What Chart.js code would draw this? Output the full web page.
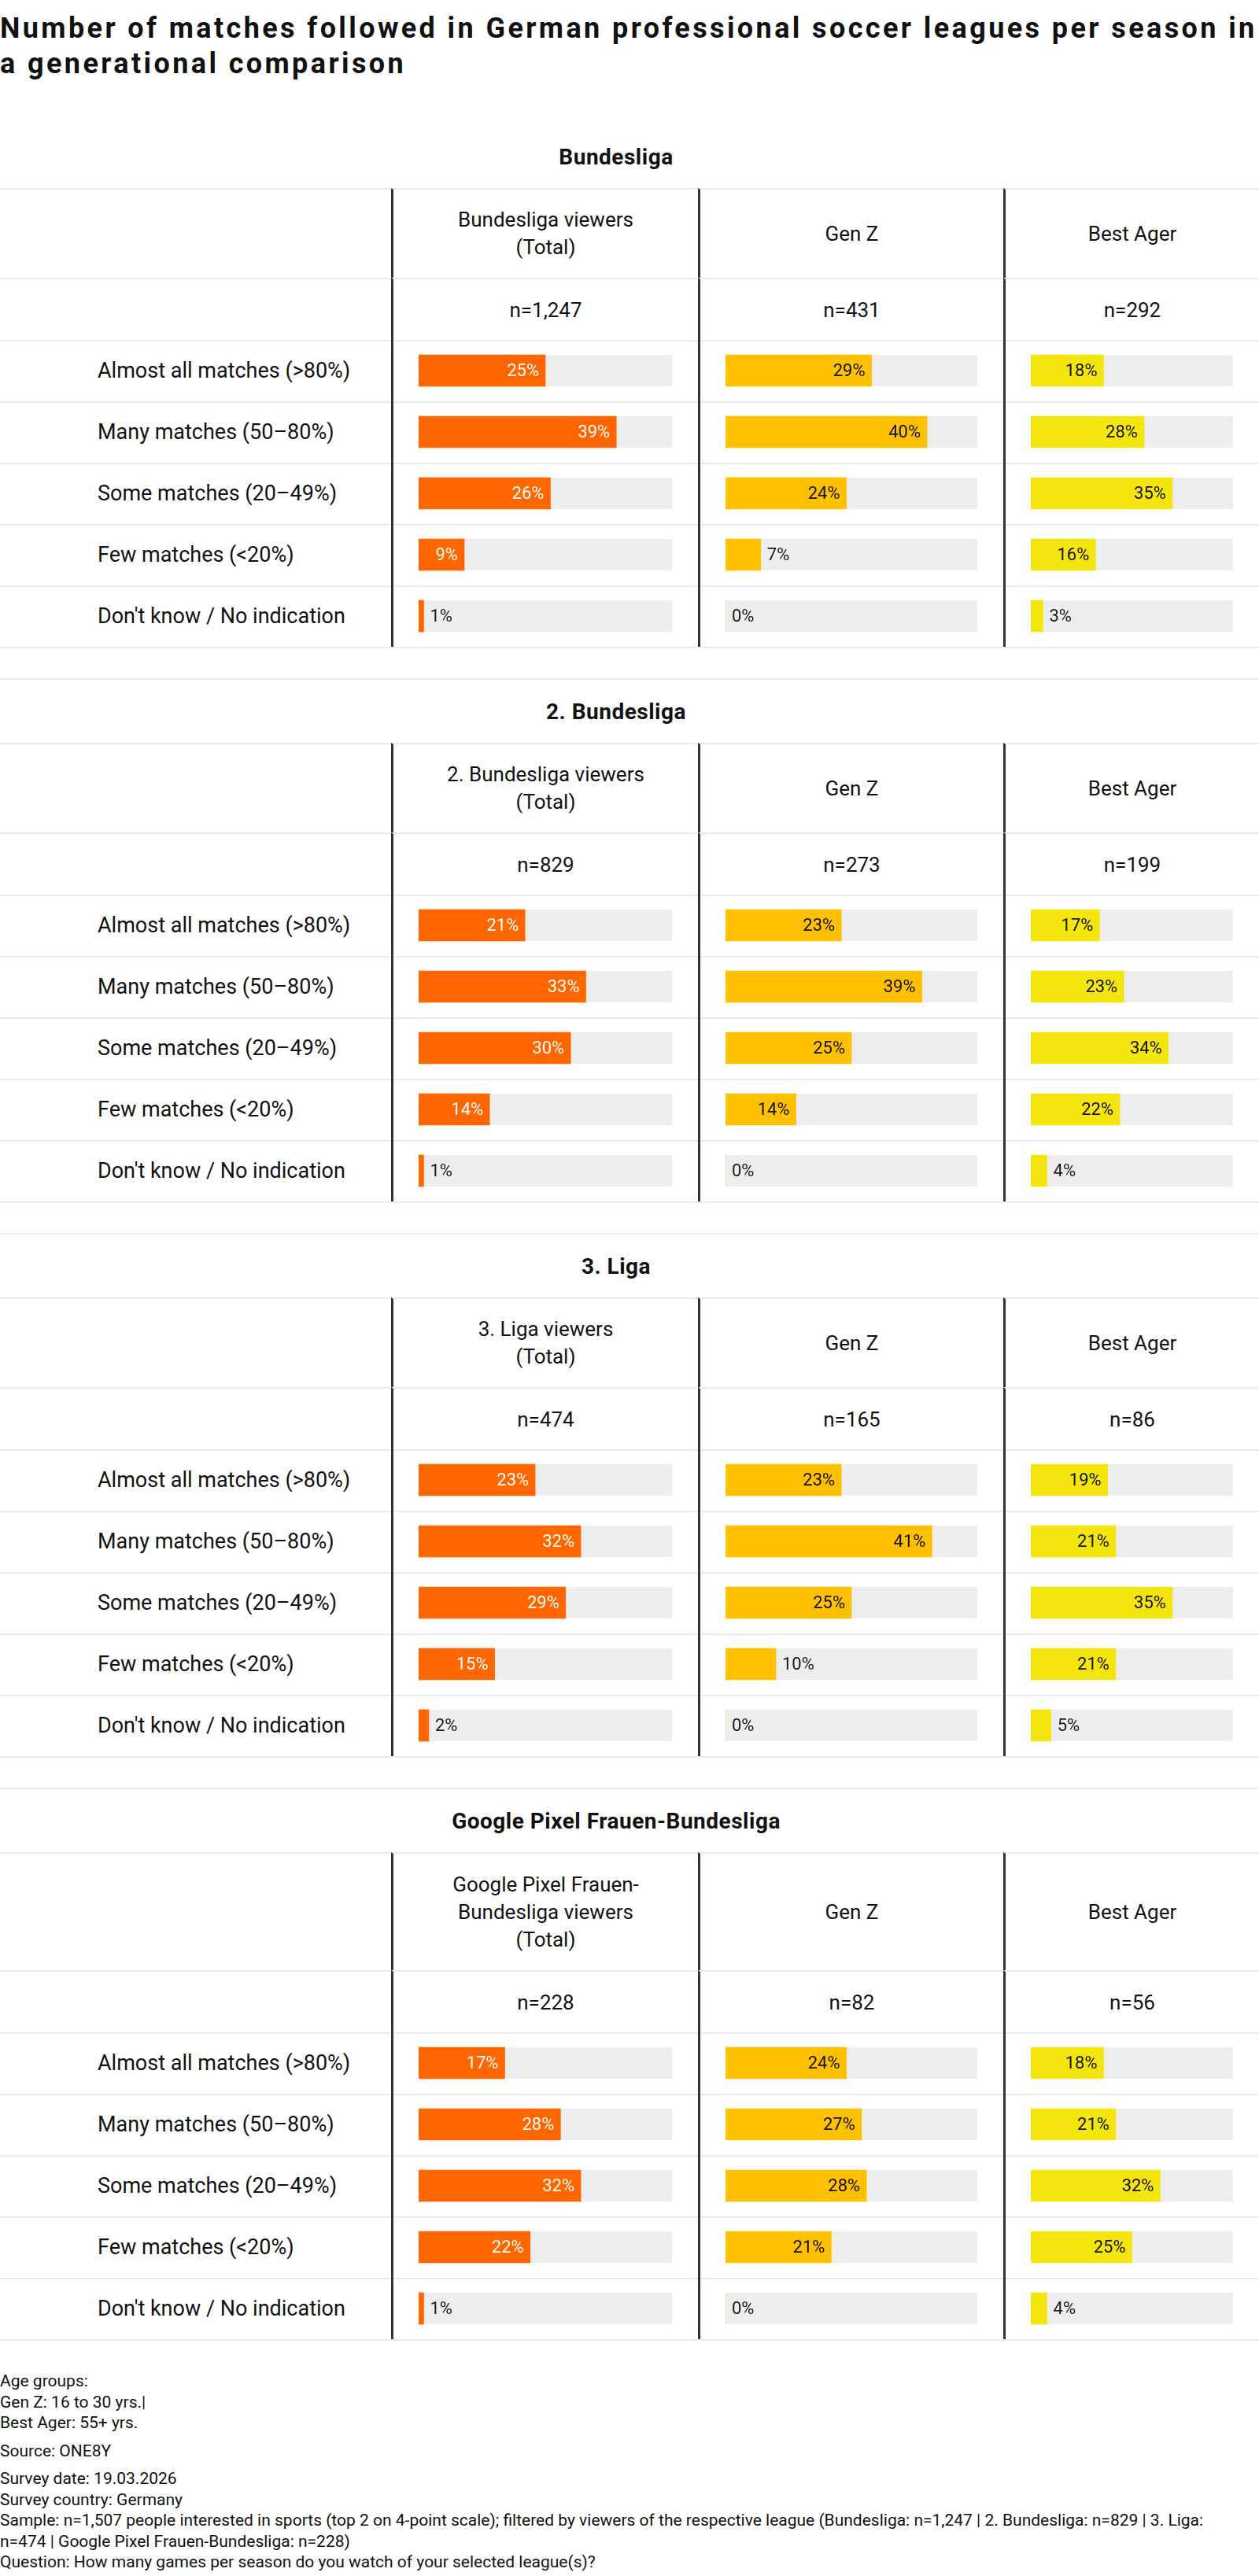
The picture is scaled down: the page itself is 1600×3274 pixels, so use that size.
<!DOCTYPE html>
<html lang="en">
<head>
<meta charset="utf-8">
<title>Number of matches followed in German professional soccer leagues per season</title>
<script src="https://cdn.jsdelivr.net/npm/chart.js@4.4.1/dist/chart.umd.min.js"></script>
<style>
  body { margin: 0; width: 1600px; background: #fff; color: #111; font-family: Roboto, "Noto Sans", sans-serif; }
  h1 { margin: 0; padding-top: 14px; height: 143px; font-size: 36px; line-height: 45px; font-weight: 700; letter-spacing: 3.4px; white-space: nowrap; }
  .section + .section { border-top: 2px solid #ebebeb; margin-top: 38px; }
  .section.first { padding-top: 2px; }
  .heading { height: 80px; display: flex; align-items: center; justify-content: center; padding-right: 34px; font-size: 28px; font-weight: 700; letter-spacing: 0.5px; }
  .grid { display: grid; grid-template-columns: 497px 390px 388px 325px; border-bottom: 2px solid #ebebeb; }
  .grid > div { box-sizing: border-box; }
  .hdr, .nrow { border-top: 2px solid #ebebeb; display: flex; align-items: center; justify-content: center; text-align: center; font-size: 26px; }
  .hdr { height: 114px; line-height: 35px; }
  .nrow { height: 79px; }
  .col { border-left: 3px solid #333; }
  .bars { height: 390px; background: repeating-linear-gradient(to bottom, #ebebeb 0, #ebebeb 2px, #fff 2px, #fff 78px); }
  .chart-cell { padding: 0 33px 0 32px; }
  .chart-box { position: relative; height: 390px; }
  .labels div { height: 78px; display: flex; align-items: center; padding-left: 124px; font-size: 27px; }
  #notes { margin-top: 38px; width: 1565px; font-size: 21px; line-height: 26.5px; }
  #notes p { margin: 0 0 9px; }
</style>
</head>
<body>
<h1 id="title"></h1>
<div id="sections"></div>
<div id="notes"></div>

<script>
const titleLines = ['Number of matches followed in German professional soccer leagues per season in', 'a generational comparison'];

const categories = ['Almost all matches (>80%)', 'Many matches (50–80%)', 'Some matches (20–49%)', 'Few matches (<20%)', "Don't know / No indication"];
const leagues = ['Bundesliga', '2. Bundesliga', '3. Liga', 'Google Pixel Frauen-Bundesliga'];
const totalHeaders = [
  ['Bundesliga viewers', '(Total)'],
  ['2. Bundesliga viewers', '(Total)'],
  ['3. Liga viewers', '(Total)'],
  ['Google Pixel Frauen-', 'Bundesliga viewers', '(Total)']
];
const groups = ['Gen Z', 'Best Ager'];

const sampleTotal = ['n=1,247', 'n=829', 'n=474', 'n=228'];
const sampleGenZ = ['n=431', 'n=273', 'n=165', 'n=82'];
const sampleBestAger = ['n=292', 'n=199', 'n=86', 'n=56'];

// shares in %, one row per league, in category order
const totalValues = [
  [25, 39, 26, 9, 1],
  [21, 33, 30, 14, 1],
  [23, 32, 29, 15, 2],
  [17, 28, 32, 22, 1]
];
const genZValues = [
  [29, 40, 24, 7, 0],
  [23, 39, 25, 14, 0],
  [23, 41, 25, 10, 0],
  [24, 27, 28, 21, 0]
];
const bestAgerValues = [
  [18, 28, 35, 16, 3],
  [17, 23, 34, 22, 4],
  [19, 21, 35, 21, 5],
  [18, 21, 32, 25, 4]
];

const notes = [
  ['Age groups:', 'Gen Z: 16 to 30 yrs.|', 'Best Ager: 55+ yrs.'],
  ['Source: ONE8Y'],
  ['Survey date: 19.03.2026', 'Survey country: Germany',
   'Sample: n=1,507 people interested in sports (top 2 on 4-point scale); filtered by viewers of the respective league (Bundesliga: n=1,247 | 2. Bundesliga: n=829 | 3. Liga: n=474 | Google Pixel Frauen-Bundesliga: n=228)',
   'Question: How many games per season do you watch of your selected league(s)?']
];

const colors = { total: '#ff6600', genz: '#ffc000', best: '#f5e50f' };

// track behind each bar + value label at the bar end
const barDecor = {
  id: 'barDecor',
  beforeDatasetsDraw(chart) {
    const { ctx, scales: { x } } = chart;
    const left = x.getPixelForValue(x.min);
    const right = x.getPixelForValue(x.max);
    ctx.save();
    ctx.fillStyle = '#ededed';
    chart.getDatasetMeta(0).data.forEach(bar => {
      const { y, height } = bar.getProps(['y', 'height'], true);
      ctx.fillRect(left, y - height / 2, right - left, height);
    });
    ctx.restore();
  },
  afterDatasetsDraw(chart, args, opts) {
    const { ctx } = chart;
    const values = chart.data.datasets[0].data;
    ctx.save();
    ctx.font = '22px Roboto, "Noto Sans", sans-serif';
    ctx.textBaseline = 'middle';
    chart.getDatasetMeta(0).data.forEach((bar, i) => {
      const { x, y, base } = bar.getProps(['x', 'y', 'base'], true);
      const txt = values[i] + '%';
      const w = ctx.measureText(txt).width;
      if (w + 28 <= x - base) {
        ctx.textAlign = 'right';
        ctx.fillStyle = opts.inside;
        ctx.fillText(txt, x - 8, y + 1);
      } else {
        ctx.textAlign = 'left';
        ctx.fillStyle = '#1a1a1a';
        ctx.fillText(txt, x + 8, y + 1);
      }
    });
    ctx.restore();
  }
};

function makeChart(canvas, values, color, insideColor) {
  return new Chart(canvas, {
    type: 'bar',
    data: {
      labels: categories,
      datasets: [{ data: values, backgroundColor: color, barThickness: 40, borderWidth: 0 }]
    },
    options: {
      indexAxis: 'y',
      responsive: true,
      maintainAspectRatio: false,
      animation: false,
      layout: { padding: 0 },
      scales: {
        x: { display: false, min: 0, max: 50 },
        y: { display: false }
      },
      plugins: {
        legend: { display: false },
        tooltip: { enabled: false },
        barDecor: { inside: insideColor }
      }
    },
    plugins: [barDecor]
  });
}

document.getElementById('title').innerHTML = titleLines.join('<br>');

const esc = s => s.replace(/</g, '&lt;').replace(/>/g, '&gt;');

const sectionsDiv = document.getElementById('sections');
leagues.forEach((league, li) => {
  const sec = document.createElement('div');
  sec.className = 'section' + (li === 0 ? ' first' : '');
  const hdrH = totalHeaders[li].length > 2 ? 150 : 114;
  sec.innerHTML = `
    <div class="heading">${league}</div>
    <div class="grid">
      <div class="hdr" style="height:${hdrH}px"></div>
      <div class="hdr col" style="height:${hdrH}px"><div>${totalHeaders[li].join('<br>')}</div></div>
      <div class="hdr col" style="height:${hdrH}px">${groups[0]}</div>
      <div class="hdr col" style="height:${hdrH}px">${groups[1]}</div>
      <div class="nrow"></div>
      <div class="nrow col">${sampleTotal[li]}</div>
      <div class="nrow col">${sampleGenZ[li]}</div>
      <div class="nrow col">${sampleBestAger[li]}</div>
      <div class="bars labels">${categories.map(c => `<div>${esc(c)}</div>`).join('')}</div>
      <div class="bars col chart-cell"><div class="chart-box"><canvas></canvas></div></div>
      <div class="bars col chart-cell"><div class="chart-box"><canvas></canvas></div></div>
      <div class="bars col chart-cell"><div class="chart-box"><canvas></canvas></div></div>
    </div>`;
  sectionsDiv.appendChild(sec);
  const canvases = sec.querySelectorAll('canvas');
  makeChart(canvases[0], totalValues[li], colors.total, '#ffffff');
  makeChart(canvases[1], genZValues[li], colors.genz, '#111111');
  makeChart(canvases[2], bestAgerValues[li], colors.best, '#111111');
});

document.getElementById('notes').innerHTML = notes
  .map(block => '<p>' + block.map(esc).join('<br>') + '</p>')
  .join('');
</script>
</body>
</html>
